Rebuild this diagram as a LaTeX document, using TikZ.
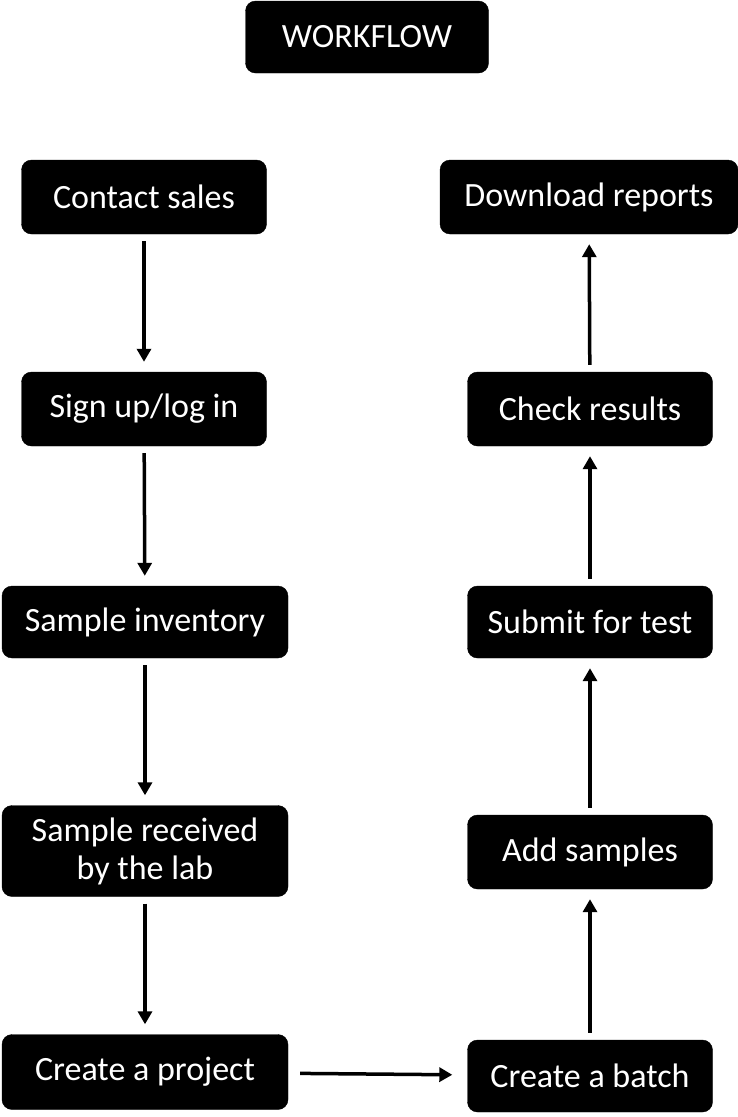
\documentclass[tikz,border=0pt]{standalone}
\usepackage{fontspec}
\setmainfont{Carlito}
\usetikzlibrary{arrows.meta,positioning}

\tikzset{
	stepbox/.style={fill=black,draw=black,rounded corners=10pt,text=white,
		align=center,minimum width=245pt,minimum height=74pt,inner sep=2pt,
		font=\fontsize{34}{38}\selectfont},
	flow/.style={-{Triangle[length=13pt,width=14pt]},line width=3.5pt,shorten <=7pt,shorten >=10pt}
}

\begin{document}
\begin{tikzpicture}[x=1pt,y=-1pt]
	\useasboundingbox (0,0) rectangle (738,1117);
	%% the title
	\node[stepbox,minimum width=243pt,minimum height=72pt] (title) at (367,37) {WORKFLOW};
	%% left column
	\node[stepbox] (sales) at (144,197) {Contact sales};
	\node[stepbox] (login) at (144,409) {Sign up/log in};
	\node[stepbox,minimum width=286pt,minimum height=72pt] (inventory) at (145,622) {Sample inventory};
	\node[stepbox,minimum width=286pt,minimum height=91pt] (received) at (145,851) {Sample received\\by the lab};
	\node[stepbox,minimum width=286pt,minimum height=75pt] (project) at (145,1072) {Create a project};
	%% right column
	\node[stepbox,minimum height=72pt] (batch) at (590,1076) {Create a batch};
	\node[stepbox] (addsamples) at (590,852) {Add samples};
	\node[stepbox,minimum height=72pt] (submit) at (590,622) {Submit for test};
	\node[stepbox] (results) at (590,409) {Check results};
	\node[stepbox,minimum width=298pt] (download) at (589,197) {Download reports};
	%% the arrows
	\draw[flow] (sales) -- (login);
	\draw[flow] (login) -- (inventory);
	\draw[flow] (inventory) -- (received);
	\draw[flow] (received) -- (project);
	\draw[flow,shorten <=12pt,shorten >=15pt] (project) -- (batch);
	\draw[flow] (batch) -- (addsamples);
	\draw[flow] (addsamples) -- (submit);
	\draw[flow] (submit) -- (results);
	\draw[flow] (results) -- (download);
\end{tikzpicture}
\end{document}
